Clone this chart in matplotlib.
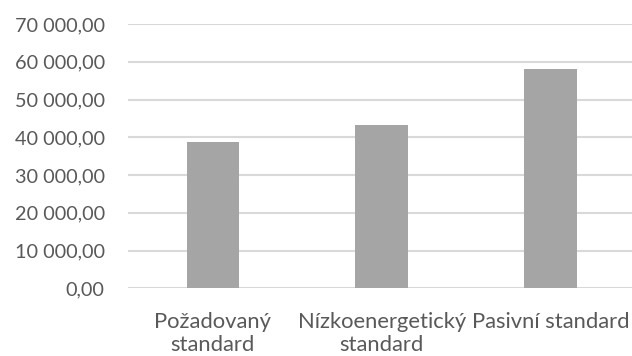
import matplotlib.pyplot as plt
from matplotlib.ticker import FuncFormatter

categories = ["Požadovaný\nstandard", "Nízkoenergetický\nstandard", "Pasivní standard"]
values = [38660, 43250, 58080]
yticks = [0, 10000, 20000, 30000, 40000, 50000, 60000, 70000]


def fmt(v, pos):
    s = f"{v:,.2f}"
    return s.replace(",", " ").replace(".", ",")


plt.rcParams['font.family'] = ['Lato', 'DejaVu Sans']

fig = plt.figure(figsize=(6.32, 3.56), dpi=100)
ax = fig.add_axes([128.3 / 632, 1 - 288.3 / 356, (635 - 128.3) / 632, (288.3 - 24) / 356])

x = list(range(len(categories)))
ax.bar(x, values, width=0.31, color="#A5A5A5", zorder=2)

ax.set_ylim(0, 70000)
ax.set_xlim(-0.5, 2.5)
ax.set_yticks(yticks)
ax.yaxis.set_major_formatter(FuncFormatter(fmt))
ax.set_xticks(x)
ax.set_xticklabels(categories, linespacing=1.2)

ax.grid(axis="y", color="#D9D9D9", linewidth=1.5, zorder=0)
for s in ax.spines.values():
    s.set_visible(False)
ax.tick_params(axis="both", length=0, colors="#595959")
ax.tick_params(axis="y", pad=17, labelsize=14.3)
ax.tick_params(axis="x", pad=17, labelsize=15.8)

fig.savefig("out.png", dpi=100)
